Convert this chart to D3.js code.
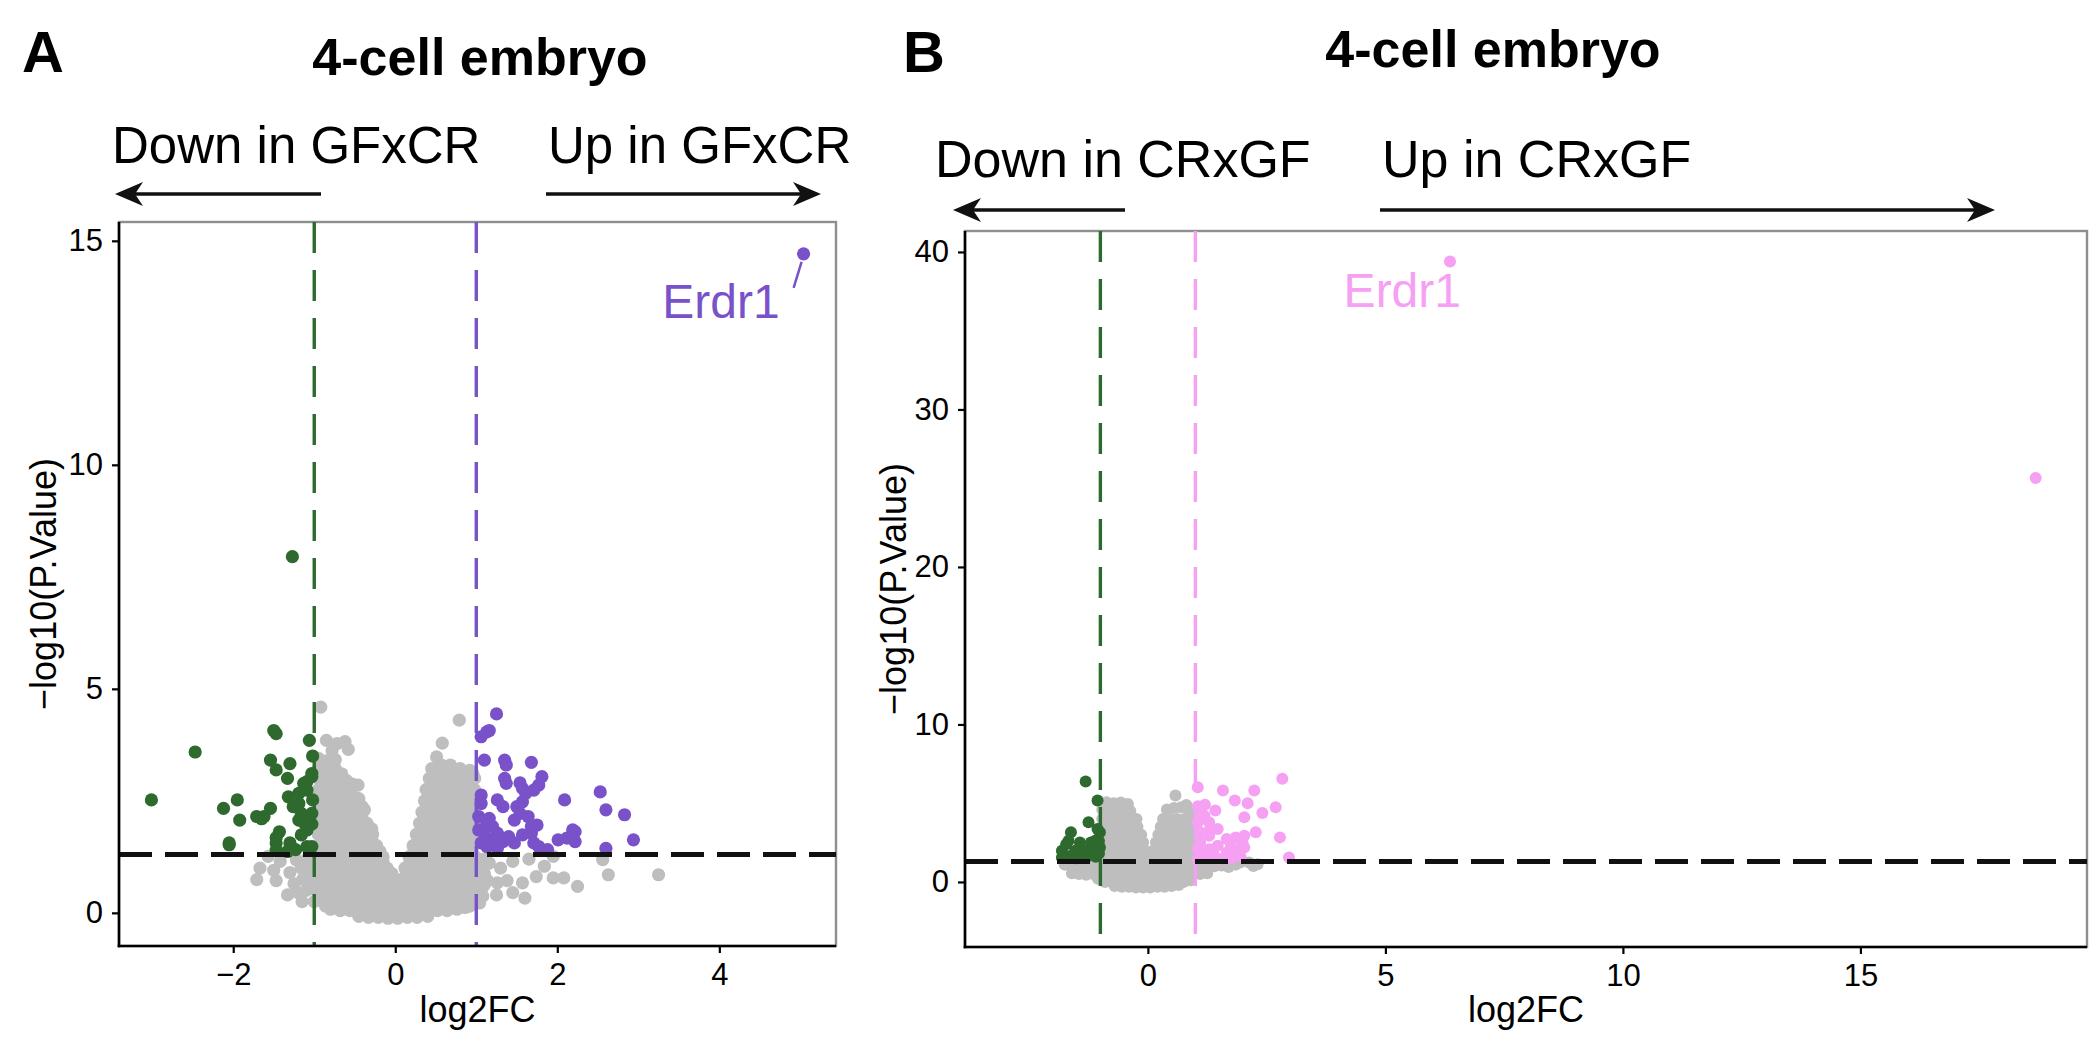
<!DOCTYPE html>
<html><head><meta charset="utf-8">
<script src="https://cdn.jsdelivr.net/npm/d3@7"></script>
<style>
body{margin:0;background:#fff}
svg{display:block}
text{font-family:"Liberation Sans",Arial,Helvetica,sans-serif;fill:#000}
</style>
</head><body>
<svg id="c" width="2100" height="1050"></svg>
<script>
// ---------------- DATA ----------------
// Panel A: 4-cell embryo, GFxCR
const greyA = [
[-0.92,4.59],[0.79,4.30],
[-0.85,3.85],[-0.72,3.78],[-0.62,3.82],[-0.58,3.65],[-0.78,3.62],[0.58,3.79],[0.51,3.48],
[-0.95,3.45],[-0.84,3.40],[-0.74,3.42],
[-0.95,3.22],[-0.85,3.20],[-0.74,3.22],[0.45,3.22],[0.57,3.30],[0.68,3.30],[0.80,3.22],[0.92,3.18],
[-0.89,3.10],[-0.77,3.10],[-0.66,3.10],[0.48,3.10],[0.60,3.10],[0.72,3.10],[0.84,3.10],[0.96,3.10],
[-0.95,3.00],[-0.83,2.98],[-0.70,3.00],[-0.60,2.95],[0.42,3.00],[0.54,3.02],[0.66,3.00],[0.78,2.98],[0.90,3.00],[0.98,3.00],
[-0.89,2.875],[-0.77,2.875],[-0.65,2.875],[-0.53,2.875],[0.44,2.875],[0.56,2.875],[0.68,2.875],[0.80,2.875],[0.92,2.875],
[-0.95,2.75],[-0.83,2.75],[-0.70,2.75],[-0.58,2.75],[-0.46,2.85],[0.38,2.75],[0.50,2.75],[0.62,2.75],[0.74,2.75],[0.86,2.75],[0.98,2.75],
[-0.89,2.625],[-0.77,2.625],[-0.65,2.625],[-0.53,2.625],[0.42,2.625],[0.54,2.625],[0.66,2.625],[0.78,2.625],[0.90,2.625],
[-0.95,2.50],[-0.83,2.50],[-0.70,2.50],[-0.58,2.50],[-0.45,2.55],[0.36,2.50],[0.48,2.50],[0.60,2.50],[0.72,2.50],[0.84,2.50],[0.96,2.50],
[-0.89,2.375],[-0.77,2.375],[-0.65,2.375],[-0.53,2.375],[-0.41,2.375],[0.39,2.375],[0.51,2.375],[0.63,2.375],[0.75,2.375],[0.87,2.375],
[-0.95,2.25],[-0.83,2.25],[-0.70,2.25],[-0.58,2.25],[-0.46,2.25],[-0.38,2.30],[0.33,2.25],[0.45,2.25],[0.57,2.25],[0.69,2.25],[0.81,2.25],[0.93,2.25],
[-0.89,2.125],[-0.77,2.125],[-0.65,2.125],[-0.53,2.125],[-0.41,2.125],[0.36,2.125],[0.48,2.125],[0.60,2.125],[0.72,2.125],[0.84,2.125],[0.96,2.125],
[-0.95,2.00],[-0.83,2.00],[-0.71,2.00],[-0.59,2.00],[-0.47,2.00],[-0.35,2.00],[0.30,2.00],[0.42,2.00],[0.54,2.00],[0.66,2.00],[0.78,2.00],[0.90,2.00],[0.98,2.00],
[-0.89,1.875],[-0.77,1.875],[-0.65,1.875],[-0.53,1.875],[-0.41,1.875],[-0.29,1.875],[0.32,1.875],[0.44,1.875],[0.56,1.875],[0.68,1.875],[0.80,1.875],[0.92,1.875],
[-0.95,1.75],[-0.83,1.75],[-0.71,1.75],[-0.59,1.75],[-0.47,1.75],[-0.35,1.75],[-0.28,1.75],[0.26,1.75],[0.38,1.75],[0.50,1.75],[0.62,1.75],[0.74,1.75],[0.86,1.75],[0.98,1.75],
[-0.89,1.625],[-0.77,1.625],[-0.65,1.625],[-0.53,1.625],[-0.41,1.625],[-0.29,1.625],[0.28,1.625],[0.40,1.625],[0.52,1.625],[0.64,1.625],[0.76,1.625],[0.88,1.625],
[-0.95,1.50],[-0.83,1.50],[-0.71,1.50],[-0.59,1.50],[-0.47,1.50],[-0.35,1.50],[-0.23,1.50],[0.22,1.50],[0.34,1.50],[0.46,1.50],[0.58,1.50],[0.70,1.50],[0.82,1.50],[0.94,1.50],
[-0.89,1.375],[-0.77,1.375],[-0.65,1.375],[-0.53,1.375],[-0.41,1.375],[-0.29,1.375],[-0.19,1.375],[0.23,1.375],[0.35,1.375],[0.47,1.375],[0.59,1.375],[0.71,1.375],[0.83,1.375],[0.95,1.375],
[-1.08,1.22],[-0.95,1.25],[-0.83,1.25],[-0.71,1.25],[-0.59,1.25],[-0.47,1.25],[-0.35,1.25],[-0.23,1.25],[-0.15,1.25],[0.17,1.25],[0.29,1.25],[0.41,1.25],[0.53,1.25],[0.65,1.25],[0.77,1.25],[0.89,1.25],[0.99,1.25],[1.10,1.20],
[-1.10,1.125],[-0.98,1.125],[-0.86,1.125],[-0.74,1.125],[-0.62,1.125],[-0.50,1.125],[-0.38,1.125],[-0.26,1.125],[-0.15,1.125],[0.18,1.125],[0.30,1.125],[0.42,1.125],[0.54,1.125],[0.66,1.125],[0.78,1.125],[0.90,1.125],[1.02,1.125],
[-1.16,1.00],[-1.04,1.00],[-0.92,1.00],[-0.80,1.00],[-0.68,1.00],[-0.56,1.00],[-0.44,1.00],[-0.32,1.00],[-0.20,1.00],[-0.10,1.00],[0.12,1.00],[0.24,1.00],[0.36,1.00],[0.48,1.00],[0.60,1.00],[0.72,1.00],[0.84,1.00],[0.96,1.00],[1.08,1.00],
[-1.10,0.875],[-0.98,0.875],[-0.86,0.875],[-0.74,0.875],[-0.62,0.875],[-0.50,0.875],[-0.38,0.875],[-0.26,0.875],[-0.14,0.875],[-0.04,0.875],[0.14,0.875],[0.26,0.875],[0.38,0.875],[0.50,0.875],[0.62,0.875],[0.74,0.875],[0.86,0.875],[0.98,0.875],[1.10,0.875],
[-1.14,0.75],[-1.02,0.75],[-0.90,0.75],[-0.78,0.75],[-0.66,0.75],[-0.54,0.75],[-0.42,0.75],[-0.30,0.75],[-0.18,0.75],[-0.07,0.75],[0.08,0.75],[0.20,0.75],[0.32,0.75],[0.44,0.75],[0.56,0.75],[0.68,0.75],[0.80,0.75],[0.92,0.75],[1.04,0.75],[1.14,0.72],
[-1.04,0.625],[-0.92,0.625],[-0.80,0.625],[-0.68,0.625],[-0.56,0.625],[-0.44,0.625],[-0.32,0.625],[-0.20,0.625],[-0.08,0.625],[0.04,0.625],[0.16,0.625],[0.28,0.625],[0.40,0.625],[0.52,0.625],[0.64,0.625],[0.76,0.625],[0.88,0.625],[1.00,0.625],[1.10,0.625],
[-1.10,0.50],[-0.98,0.50],[-0.86,0.50],[-0.74,0.50],[-0.62,0.50],[-0.50,0.50],[-0.38,0.50],[-0.26,0.50],[-0.14,0.50],[-0.02,0.50],[0.10,0.50],[0.22,0.50],[0.34,0.50],[0.46,0.50],[0.58,0.50],[0.70,0.50],[0.82,0.50],[0.94,0.50],[1.06,0.50],
[-0.94,0.375],[-0.82,0.375],[-0.70,0.375],[-0.58,0.375],[-0.46,0.375],[-0.34,0.375],[-0.22,0.375],[-0.10,0.375],[0.02,0.375],[0.14,0.375],[0.26,0.375],[0.38,0.375],[0.50,0.375],[0.62,0.375],[0.74,0.375],[0.86,0.375],[0.98,0.375],[1.08,0.375],
[-1.00,0.25],[-0.88,0.25],[-0.76,0.25],[-0.64,0.25],[-0.52,0.25],[-0.40,0.25],[-0.28,0.25],[-0.16,0.25],[-0.04,0.25],[0.08,0.25],[0.20,0.25],[0.32,0.25],[0.44,0.25],[0.56,0.25],[0.68,0.25],[0.80,0.25],[0.92,0.25],[1.04,0.22],
[-0.86,0.15],[-0.74,0.15],[-0.62,0.15],[-0.50,0.15],[-0.38,0.15],[-0.26,0.15],[-0.14,0.15],[-0.02,0.15],[0.10,0.15],[0.22,0.15],[0.34,0.15],[0.46,0.15],[0.58,0.15],[0.70,0.15],[0.82,0.15],[0.92,0.15],
[-0.80,0.08],[-0.68,0.05],[-0.56,0.05],[-0.44,0.05],[-0.32,0.05],[-0.20,0.05],[-0.08,0.05],[0.04,0.05],[0.16,0.05],[0.28,0.05],[0.40,0.05],[0.52,0.05],[0.64,0.05],[0.76,0.08],[0.86,0.12],
[-0.45,-0.08],[-0.33,-0.10],[-0.21,-0.10],[-0.09,-0.12],[0.03,-0.12],[0.15,-0.10],[0.27,-0.10],[0.40,-0.08],
[-1.57,1.26],[-1.67,1.00],[-1.71,0.74],[-1.50,0.95],[-1.47,0.72],[-1.33,0.40],[-1.42,1.15],[-1.30,0.90],[-1.22,1.18],[-1.25,0.65],[-1.20,0.45],[-1.15,0.25],
[1.16,1.11],[1.26,0.67],[1.38,0.72],[1.57,0.67],[1.60,0.33],[1.74,0.81],[1.84,1.04],[1.95,0.78],[2.08,0.78],[2.25,0.59],[1.95,1.26],[2.56,1.19],[2.63,0.85],[3.25,0.85],[1.30,1.00],[1.45,1.15],[1.65,1.20],[1.25,0.40],[1.45,0.45]
];
const downA = [
[-3.01,2.52],[-2.47,3.59],[-2.12,2.33],[-1.95,2.52],[-1.92,2.07],[-2.05,1.52],[-1.71,2.15],[-1.62,2.15],[-1.54,2.33],
[-1.50,4.07],[-1.47,4.00],[-1.54,3.41],[-1.47,3.19],[-1.30,3.33],[-1.33,3.00],[-1.43,1.81],[-1.47,1.68],[-1.47,1.56],
[-1.47,1.40],[-1.30,1.56],[-1.32,2.59],[-1.19,2.67],[-1.19,2.44],[-1.26,2.37],[-1.16,2.22],[-1.13,2.89],[-1.09,2.93],
[-1.06,3.85],[-1.02,3.50],[-1.09,2.74],[-1.02,2.52],[-1.09,1.85],[-1.12,2.00],[-1.16,1.74],[-1.19,2.07],[-1.03,2.22],
[-1.06,2.10],[-1.03,1.98],[-1.03,3.04],[-1.03,3.11],[-1.09,1.48],[-1.03,1.48],[-1.23,1.41],[-1.33,1.37],[-1.65,2.10],
[-2.05,1.56],[-1.27,7.95]
];
const upA = [
[1.25,4.44],[1.13,4.04],[1.16,4.07],[1.06,3.93],[1.10,3.41],[1.35,3.41],[1.37,3.30],[1.68,3.36],[1.35,3.00],[1.37,2.89],
[1.54,2.90],[1.57,2.78],[1.81,3.04],[1.77,2.85],[1.71,2.74],[1.61,2.67],[1.57,2.48],[1.06,2.63],[1.06,2.44],[1.26,2.52],
[1.33,2.37],[1.50,2.37],[1.54,2.22],[1.64,2.15],[1.47,2.07],[1.68,1.93],[1.75,1.96],[2.09,2.52],[2.53,2.70],[2.60,2.30],
[2.83,2.19],[2.94,1.63],[2.19,1.85],[2.22,1.81],[2.12,1.67],[2.01,1.63],[2.22,1.59],[2.60,1.44],[1.16,2.11],[1.13,1.96],
[1.20,1.93],[1.26,1.78],[1.09,1.81],[1.13,1.67],[1.23,1.63],[1.33,1.59],[1.40,1.70],[1.47,1.56],[1.57,1.74],[1.68,1.78],
[1.71,1.56],[1.77,1.48],[1.88,1.41],[1.13,1.48],[1.26,1.44],[1.03,2.15],[1.03,1.85],[1.06,1.56],
[5.04,14.71]
];
const labelA = {name: "Erdr1", x: 5.04, y: 14.71};

// Panel B: 4-cell embryo, CRxGF
const greyB = [
[-0.87,5.06],[-0.72,5.00],[-0.57,5.05],[-0.42,4.95],
[-0.96,4.60],[-0.82,4.50],[-0.67,4.50],[-0.52,4.50],[-0.37,4.50],
[-0.96,4.00],[-0.82,4.00],[-0.67,4.00],[-0.52,4.00],[-0.37,4.00],[-0.24,4.00],
[-0.96,3.50],[-0.82,3.50],[-0.67,3.50],[-0.52,3.50],[-0.37,3.50],[-0.22,3.50],
[-0.96,3.00],[-0.82,3.00],[-0.67,3.00],[-0.52,3.00],[-0.37,3.00],[-0.22,3.00],[-0.14,3.00],
[-0.96,2.50],[-0.82,2.50],[-0.67,2.50],[-0.52,2.50],[-0.37,2.50],[-0.22,2.50],[-0.10,2.50],
[-0.96,2.00],[-0.82,2.00],[-0.67,2.00],[-0.52,2.00],[-0.37,2.00],[-0.22,2.00],[-0.07,2.00],
[-0.96,1.50],[-0.82,1.50],[-0.67,1.50],[-0.52,1.50],[-0.37,1.50],[-0.22,1.50],[-0.07,1.50],[0.05,1.40],
[-1.75,1.10],[-1.60,1.00],[-1.45,1.00],[-1.30,1.00],[-1.15,1.00],[-1.00,1.00],[-0.85,1.00],[-0.70,1.00],[-0.55,1.00],[-0.40,1.00],
[-0.25,1.00],[-0.10,1.00],[0.05,1.00],[0.20,1.00],[0.35,1.00],[0.50,1.00],[0.65,1.00],[0.80,1.00],[0.95,1.00],[1.10,0.95],
[1.25,1.00],[1.40,1.00],[1.55,1.05],[1.70,0.95],[1.94,1.23],[2.13,1.23],[2.22,1.02],[2.31,1.13],[1.85,1.10],
[-1.60,0.55],[-1.45,0.50],[-1.30,0.45],[-1.15,0.50],[-1.00,0.50],[-0.85,0.50],[-0.70,0.50],[-0.55,0.50],[-0.40,0.50],[-0.25,0.50],
[-0.10,0.50],[0.05,0.50],[0.20,0.50],[0.35,0.50],[0.50,0.50],[0.65,0.50],[0.80,0.50],[0.95,0.50],[1.10,0.50],[1.25,0.55],
[-1.05,0.20],[-0.90,0.00],[-0.75,0.00],[-0.60,0.00],[-0.45,0.00],[-0.30,0.00],[-0.15,0.00],[0.00,0.00],[0.15,0.00],[0.30,0.00],
[0.45,0.00],[0.60,0.00],[0.75,0.00],[0.90,0.10],
[-0.70,-0.25],[-0.55,-0.30],[-0.40,-0.30],[-0.25,-0.35],[-0.10,-0.35],[0.05,-0.35],[0.20,-0.30],[0.35,-0.30],[0.50,-0.25],[0.65,-0.20],
[0.58,5.49],[0.81,4.89],
[0.40,4.60],[0.55,4.70],[0.70,4.75],[0.85,4.60],[0.95,4.50],
[0.32,4.00],[0.47,4.00],[0.62,4.00],[0.77,4.00],[0.92,4.00],
[0.27,3.50],[0.42,3.50],[0.57,3.50],[0.72,3.50],[0.87,3.50],[0.97,3.50],
[0.22,3.00],[0.37,3.00],[0.52,3.00],[0.67,3.00],[0.82,3.00],[0.97,3.00],
[0.17,2.50],[0.32,2.50],[0.47,2.50],[0.62,2.50],[0.77,2.50],[0.92,2.50],
[0.12,2.00],[0.27,2.00],[0.42,2.00],[0.57,2.00],[0.72,2.00],[0.87,2.00],[0.98,2.00],
[0.20,1.50],[0.35,1.50],[0.50,1.50],[0.65,1.50],[0.80,1.50],[0.95,1.50]
];
const downB = [
[-1.31,6.38],[-1.06,5.17],[-1.25,3.79],[-1.62,3.15],[-1.67,2.62],[-1.72,2.40],[-1.43,2.51],[-1.20,2.51],[-1.11,2.62],
[-1.01,3.15],[-1.06,3.36],[-1.76,1.66],[-1.62,1.66],[-1.53,1.98],[-1.34,1.98],[-1.15,2.08],[-1.01,2.19],[-1.81,1.98],
[-1.81,1.55],[-1.50,1.50],[-1.30,1.55],[-1.10,1.60],[-1.03,1.80],[-1.03,2.60]
];
const upB = [
[1.05,6.02],[1.58,5.81],[1.83,5.17],[2.10,5.00],[2.24,5.81],[2.83,6.55],[2.69,4.74],[2.41,4.38],[2.03,4.11],[2.27,3.15],
[2.78,2.83],[2.97,1.55],[1.42,4.53],[1.19,4.21],[1.10,4.42],[1.05,3.79],[1.29,3.79],[1.47,3.36],[1.10,3.15],[1.29,2.94],
[1.66,2.72],[1.85,2.83],[2.03,2.94],[1.99,2.51],[1.75,2.30],[1.47,2.30],[1.29,2.08],[1.10,2.51],[1.10,1.87],[1.38,1.76],
[1.66,1.87],[1.90,1.98],[2.03,2.19],[1.05,2.10],[1.05,1.45],[1.25,1.45],[1.50,1.45],[1.75,1.50],[1.95,1.60],[1.20,4.90],
[1.05,4.80],[1.30,3.30],
[6.36,39.40],[18.69,25.65]
];
const labelB = {name: "Erdr1", x: 6.36, y: 39.40};

const xTicksA = [-2, 0, 2, 4];
const yTicksA = [0, 5, 10, 15];
const xTicksB = [0, 5, 10, 15];
const yTicksB = [0, 10, 20, 30, 40];
const fcCut = 1;            // |log2FC| threshold
const pCut = 0.05;          // P value threshold

// ---------------- DRAWING ----------------
const svg = d3.select("#c");
const GREY = "#bebebe", GREEN = "#2e6a2e", PURPLE = "#7952c9", PINK = "#f6a0f3";

function arrow(g, x1, x2, y) {
  // x1 = tail, x2 = tip
  const dir = x2 > x1 ? 1 : -1;
  g.append("line").attr("x1", x1).attr("x2", x2 - dir * 16).attr("y1", y).attr("y2", y)
    .attr("stroke", "#111").attr("stroke-width", 3.4);
  g.append("path")
    .attr("d", `M${x2},${y} L${x2 - dir * 28},${y - 12} L${x2 - dir * 20},${y} L${x2 - dir * 28},${y + 12} Z`)
    .attr("fill", "#111");
}

function panel(o) {
  const x = d3.scaleLinear().domain(o.xDomain).range([o.left, o.right]);
  const y = d3.scaleLinear().domain(o.yDomain).range([o.bottom, o.top]);
  const g = svg.append("g");

  g.append("rect").attr("x", o.left).attr("y", o.top)
    .attr("width", o.right - o.left).attr("height", o.bottom - o.top)
    .attr("fill", "none").attr("stroke", "#8e8e8e").attr("stroke-width", 2.4);

  const layer = (data, col) => g.append("g").selectAll("circle").data(data).join("circle")
      .attr("cx", d => x(d[0])).attr("cy", d => y(d[1])).attr("r", o.r).attr("fill", col);
  layer(o.grey, GREY);
  layer(o.down, GREEN);
  layer(o.up, o.upColor);

  // threshold lines
  g.append("line").attr("x1", x(-fcCut)).attr("x2", x(-fcCut)).attr("y1", o.top).attr("y2", o.bottom)
    .attr("stroke", GREEN).attr("stroke-width", 3.4).attr("stroke-dasharray", "31,17");
  g.append("line").attr("x1", x(fcCut)).attr("x2", x(fcCut)).attr("y1", o.top).attr("y2", o.bottom)
    .attr("stroke", o.upColor).attr("stroke-width", 3.4).attr("stroke-dasharray", "31,17");
  g.append("line").attr("x1", o.left).attr("x2", o.right)
    .attr("y1", y(-Math.log10(pCut))).attr("y2", y(-Math.log10(pCut)))
    .attr("stroke", "#111").attr("stroke-width", 5).attr("stroke-dasharray", "33,13");

  // label
  const lp = [x(o.label.x), y(o.label.y)];
  if (o.seg) {
    g.append("line").attr("x1", lp[0] + o.seg[0]).attr("y1", lp[1] + o.seg[1])
      .attr("x2", lp[0] + o.seg[2]).attr("y2", lp[1] + o.seg[3])
      .attr("stroke", o.upColor).attr("stroke-width", 2.5);
  }
  g.append("text").attr("x", lp[0] + o.lab[0]).attr("y", lp[1] + o.lab[1])
    .attr("text-anchor", "end").attr("font-size", 48).style("fill", o.upColor).text(o.label.name);

  // axes
  const xa = g.append("g").attr("transform", `translate(0,${o.bottom})`)
    .call(d3.axisBottom(x).tickValues(o.xTicks).tickSize(7).tickSizeOuter(0).tickPadding(10).tickFormat(d3.format("d")));
  const ya = g.append("g").attr("transform", `translate(${o.left},0)`)
    .call(d3.axisLeft(y).tickValues(o.yTicks).tickSize(7).tickSizeOuter(0).tickPadding(9).tickFormat(d3.format("d")));
  [xa, ya].forEach(a => {
    a.select(".domain").attr("stroke", "#000").attr("stroke-width", 2.6);
    a.selectAll(".tick line").attr("stroke", "#000").attr("stroke-width", 2.2);
    a.selectAll(".tick text").attr("font-size", 31).attr("font-family", null).style("fill", "#000");
  });
  ya.select(".domain").attr("d", `M0,${o.top}V${o.bottom + 1.3}`);
  xa.select(".domain").attr("d", `M${o.left - 1.3},0H${o.right}`);

  // axis titles
  g.append("text").attr("x", (o.left + o.right) / 2).attr("y", 1022)
    .attr("text-anchor", "middle").attr("font-size", 36).text("log2FC");
  g.append("text").attr("transform", `translate(${o.ylabX},${(o.top + o.bottom) / 2}) rotate(-90)`)
    .attr("text-anchor", "middle").attr("dy", "0.35em").attr("font-size", 36).text("\u2212log10(P.Value)");

  // header
  g.append("text").attr("x", o.letterX).attr("y", 72).attr("font-size", 58).attr("font-weight", "bold").text(o.letter);
  g.append("text").attr("x", o.titleX).attr("y", o.titleY).attr("text-anchor", "middle")
    .attr("font-size", 52).attr("font-weight", "bold").text("4-cell embryo");
  g.append("text").attr("x", o.downX).attr("y", o.dirY).attr("font-size", o.dirSize).text(o.downText);
  g.append("text").attr("x", o.upX).attr("y", o.dirY).attr("font-size", o.dirSize).text(o.upText);
  arrow(g, o.arrL[0], o.arrL[1], o.arrY);
  arrow(g, o.arrR[0], o.arrR[1], o.arrY);
}

panel({
  xDomain: [-3.41, 5.44], yDomain: [-0.74, 15.42],
  left: 119, right: 836, top: 222, bottom: 946, r: 6.6,
  grey: greyA, down: downA, up: upA, upColor: PURPLE,
  label: labelA, lab: [-24, 64], seg: [-10, 34, -2, 8],
  xTicks: xTicksA, yTicks: yTicksA, ylabX: 43,
  letter: "A", letterX: 22, titleX: 480, titleY: 75,
  downText: "Down in GFxCR", upText: "Up in GFxCR", downX: 112, upX: 548, dirY: 163, dirSize: 51,
  arrY: 194, arrL: [321, 115], arrR: [546, 821]
});
panel({
  xDomain: [-3.85, 19.77], yDomain: [-4.13, 41.33],
  left: 965, right: 2087, top: 231, bottom: 947, r: 6,
  grey: greyB, down: downB, up: upB, upColor: PINK,
  label: labelB, lab: [11, 46], seg: null,
  xTicks: xTicksB, yTicks: yTicksB, ylabX: 893,
  letter: "B", letterX: 903, titleX: 1493, titleY: 67,
  downText: "Down in CRxGF", upText: "Up in CRxGF", downX: 935, upX: 1382, dirY: 177, dirSize: 52,
  arrY: 210, arrL: [1125, 953], arrR: [1380, 1995]
});
</script>
</body></html>
